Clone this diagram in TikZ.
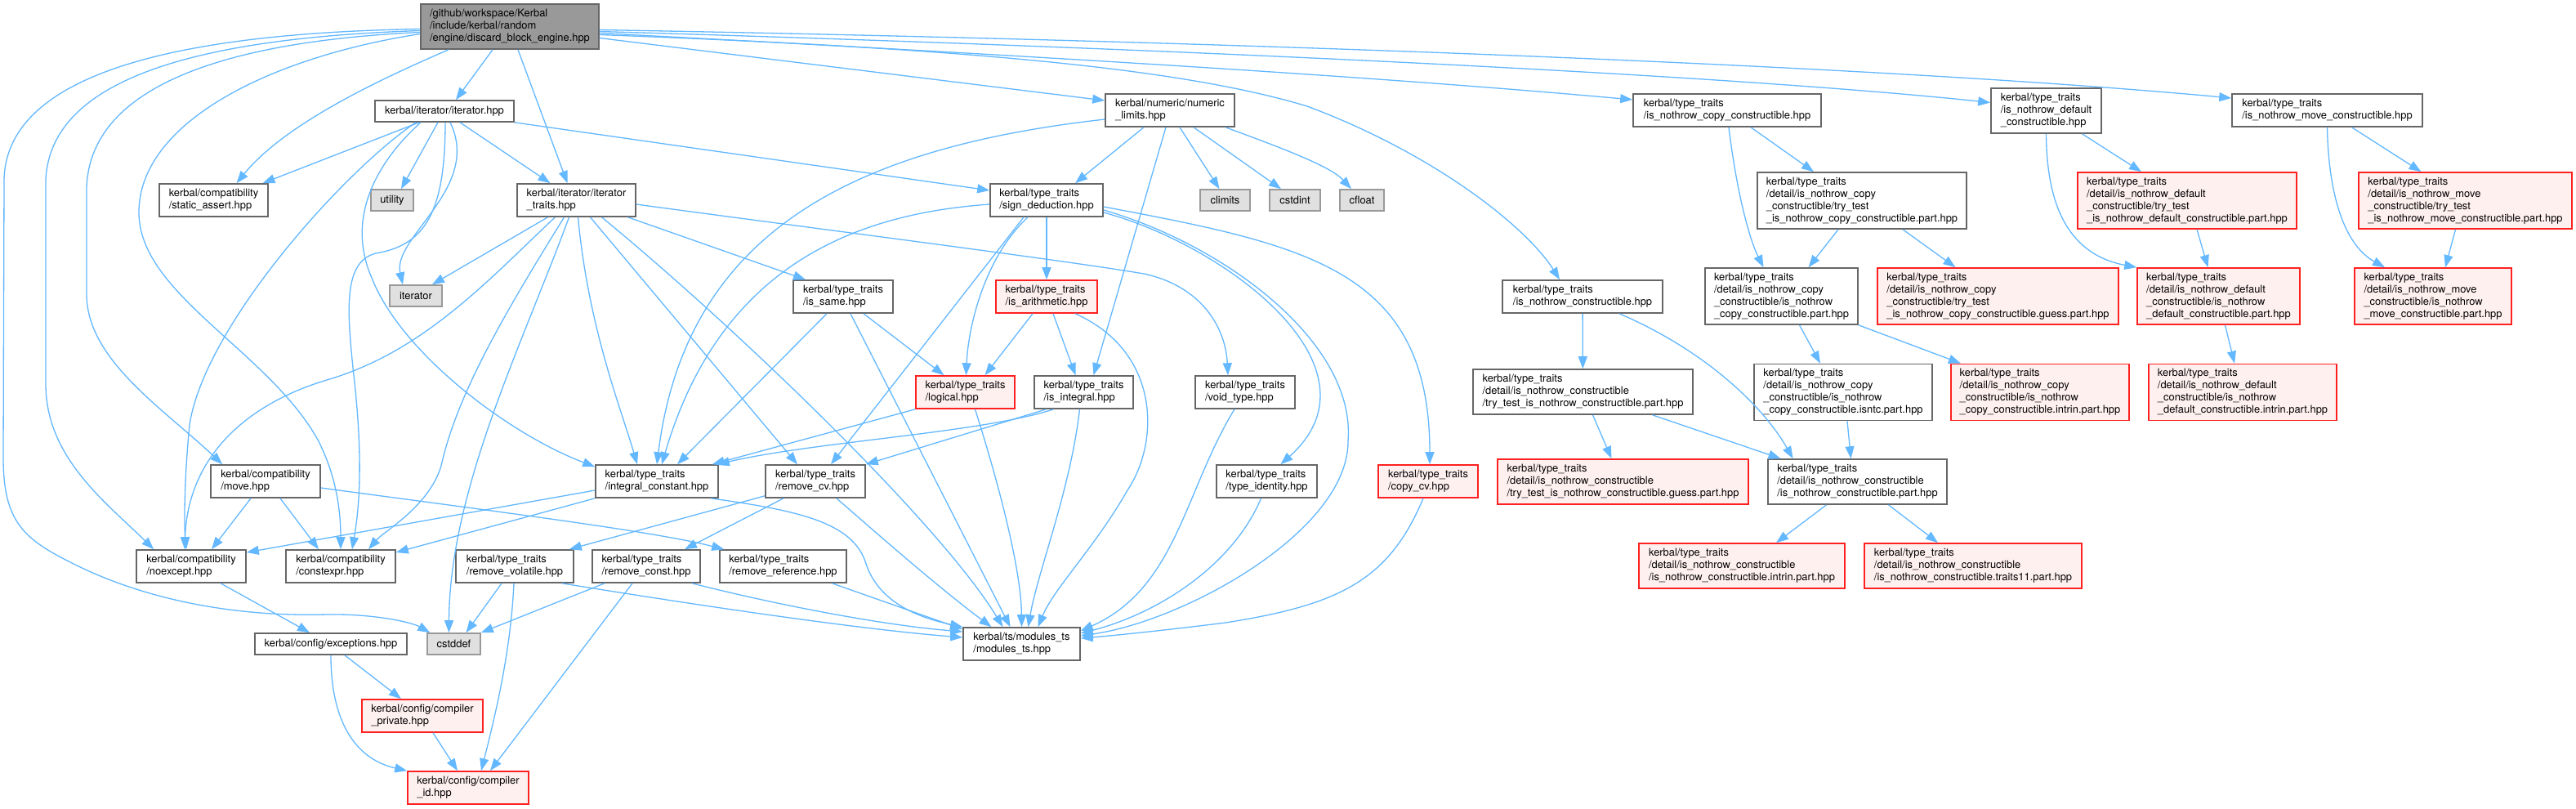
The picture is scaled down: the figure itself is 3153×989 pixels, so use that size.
\documentclass[tikz,border=0pt]{standalone}
\usepackage{fontspec}
\newfontfamily\doxyfont{TeX Gyre Heros}
\usetikzlibrary{arrows.meta}
\definecolor{edgeblue}{HTML}{63B8FF}
\definecolor{boxborder}{HTML}{666666}
\definecolor{mainfill}{HTML}{999999}
\definecolor{sysfill}{HTML}{E0E0E0}
\definecolor{sysborder}{HTML}{999999}
\definecolor{redfill}{HTML}{FFF0F0}
\definecolor{redborder}{HTML}{FF2020}

\begin{document}
\begin{tikzpicture}[x=1pt, y=-1pt,
    hdr/.style={draw=boxborder, fill=white, line width=1.6pt, inner sep=0pt, align=left, font={\doxyfont\fontsize{12.9}{15}\selectfont}},
    mainhdr/.style={hdr, fill=mainfill},
    syshdr/.style={hdr, draw=sysborder, fill=sysfill},
    redhdr/.style={hdr, draw=redborder, fill=redfill},
    oneline/.style={minimum height=26pt},
    twoline/.style={minimum height=40pt},
    threeline/.style={minimum height=55pt},
    fourline/.style={minimum height=69pt},
    arrow/.style={draw=edgeblue, line width=1.3pt, -{Triangle[length=15pt,width=11pt]}}
]
\fill[white] (0,0) rectangle (3153,989);
\useasboundingbox (0,0) rectangle (3153,989);

% Headers, left part
\node[mainhdr, threeline, minimum width=218pt] (main) at (624,32.5) {/github/workspace/Kerbal\\/include/kerbal/random\\/engine/discard\_block\_engine.hpp};
\node[hdr, oneline, minimum width=170pt] (iter) at (544,136) {kerbal/iterator/iterator.hpp};
\node[hdr, twoline, minimum width=133pt] (sa) at (261.5,245) {kerbal/compatibility\\/static\_assert.hpp};
\node[syshdr, oneline, minimum width=52pt] (util) at (480,245) {utility};
\node[hdr, twoline, minimum width=145pt] (itt) at (705.5,245) {kerbal/iterator/iterator\\\_traits.hpp};
\node[syshdr, oneline, minimum width=64pt] (itr) at (509,362) {iterator};
\node[hdr, twoline, minimum width=134pt] (mv) at (325,589) {kerbal/compatibility\\/move.hpp};
\node[hdr, twoline, minimum width=134pt] (nx) at (234,693) {kerbal/compatibility\\/noexcept.hpp};
\node[hdr, twoline, minimum width=134pt] (ce) at (417,693) {kerbal/compatibility\\/constexpr.hpp};
\node[hdr, twoline, minimum width=144pt] (rvol) at (630,693) {kerbal/type\_traits\\/remove\_volatile.hpp};
\node[hdr, oneline, minimum width=186pt] (exc) at (405,788) {kerbal/config/exceptions.hpp};
\node[syshdr, oneline, minimum width=65pt] (cstddef) at (555.5,788) {cstddef};
\node[redhdr, twoline, minimum width=148pt] (cpriv) at (517,876) {kerbal/config/compiler\\\_private.hpp};
\node[redhdr, twoline, minimum width=148pt] (cid) at (573,964) {kerbal/config/compiler\\\_id.hpp};

% Headers, middle part
\node[hdr, twoline, minimum width=122pt] (same) at (1032,363) {kerbal/type\_traits\\/is\_same.hpp};
\node[redhdr, twoline, minimum width=124pt] (arith) at (1281,363) {kerbal/type\_traits\\/is\_arithmetic.hpp};
\node[redhdr, twoline, minimum width=121pt] (logic) at (1181.5,480) {kerbal/type\_traits\\/logical.hpp};
\node[hdr, twoline, minimum width=121pt] (integ) at (1326.5,480) {kerbal/type\_traits\\/is\_integral.hpp};
\node[hdr, twoline, minimum width=150pt] (ic) at (804,589) {kerbal/type\_traits\\/integral\_constant.hpp};
\node[hdr, twoline, minimum width=122pt] (rcv) at (998,589) {kerbal/type\_traits\\/remove\_cv.hpp};
\node[hdr, twoline, minimum width=132pt] (rconst) at (791,693) {kerbal/type\_traits\\/remove\_const.hpp};
\node[hdr, twoline, minimum width=155pt] (rref) at (958.5,693) {kerbal/type\_traits\\/remove\_reference.hpp};
\node[hdr, twoline, minimum width=143pt] (mts) at (1250.5,788) {kerbal/ts/modules\_ts\\/modules\_ts.hpp};
\node[hdr, twoline, minimum width=158pt] (nl) at (1432,135) {kerbal/numeric/numeric\\\_limits.hpp};
\node[hdr, twoline, minimum width=138pt] (sd) at (1281,245) {kerbal/type\_traits\\/sign\_deduction.hpp};
\node[syshdr, oneline, minimum width=61pt] (climits) at (1499.5,245) {climits};
\node[syshdr, oneline, minimum width=62pt] (cstdint) at (1585,245) {cstdint};
\node[syshdr, oneline, minimum width=54pt] (cfloat) at (1667,245) {cfloat};
\node[hdr, twoline, minimum width=122pt] (void) at (1524,480) {kerbal/type\_traits\\/void\_type.hpp};
\node[hdr, twoline, minimum width=123pt] (tid) at (1550.5,589) {kerbal/type\_traits\\/type\_identity.hpp};
\node[redhdr, twoline, minimum width=122pt] (ccv) at (1748,589) {kerbal/type\_traits\\/copy\_cv.hpp};

% Headers, nothrow part
\node[hdr, twoline, minimum width=196pt] (inc) at (1937,363) {kerbal/type\_traits\\/is\_nothrow\_constructible.hpp};
\node[hdr, threeline, minimum width=269pt] (inctt) at (1937.5,479.5) {kerbal/type\_traits\\/detail/is\_nothrow\_constructible\\/try\_test\_is\_nothrow\_constructible.part.hpp};
\node[redhdr, threeline, minimum width=307pt] (incg) at (1986.5,589.5) {kerbal/type\_traits\\/detail/is\_nothrow\_constructible\\/try\_test\_is\_nothrow\_constructible.guess.part.hpp};
\node[hdr, threeline, minimum width=219pt] (incp) at (2273.5,589.5) {kerbal/type\_traits\\/detail/is\_nothrow\_constructible\\/is\_nothrow\_constructible.part.hpp};
\node[redhdr, threeline, minimum width=252pt] (inci) at (2132,692.5) {kerbal/type\_traits\\/detail/is\_nothrow\_constructible\\/is\_nothrow\_constructible.intrin.part.hpp};
\node[redhdr, threeline, minimum width=266pt] (inct) at (2415,692.5) {kerbal/type\_traits\\/detail/is\_nothrow\_constructible\\/is\_nothrow\_constructible.traits11.part.hpp};
\node[hdr, twoline, minimum width=230pt] (incc) at (2114,135) {kerbal/type\_traits\\/is\_nothrow\_copy\_constructible.hpp};
\node[hdr, threeline, minimum width=135pt] (incd) at (2504.5,135.5) {kerbal/type\_traits\\/is\_nothrow\_default\\\_constructible.hpp};
\node[hdr, twoline, minimum width=233pt] (incm) at (2848.5,135) {kerbal/type\_traits\\/is\_nothrow\_move\_constructible.hpp};
\node[hdr, fourline, minimum width=256pt] (cctt) at (2279,245.5) {kerbal/type\_traits\\/detail/is\_nothrow\_copy\\\_constructible/try\_test\\\_is\_nothrow\_copy\_constructible.part.hpp};
\node[redhdr, fourline, minimum width=268pt] (dtt) at (2677,245.5) {kerbal/type\_traits\\/detail/is\_nothrow\_default\\\_constructible/try\_test\\\_is\_nothrow\_default\_constructible.part.hpp};
\node[redhdr, fourline, minimum width=261pt] (mtt) at (3017.5,245.5) {kerbal/type\_traits\\/detail/is\_nothrow\_move\\\_constructible/try\_test\\\_is\_nothrow\_move\_constructible.part.hpp};
\node[hdr, fourline, minimum width=187pt] (ccp) at (2180.5,362.5) {kerbal/type\_traits\\/detail/is\_nothrow\_copy\\\_constructible/is\_nothrow\\\_copy\_constructible.part.hpp};
\node[redhdr, fourline, minimum width=295pt] (ccg) at (2445.5,362.5) {kerbal/type\_traits\\/detail/is\_nothrow\_copy\\\_constructible/try\_test\\\_is\_nothrow\_copy\_constructible.guess.part.hpp};
\node[redhdr, fourline, minimum width=199pt] (dp) at (2715.5,362.5) {kerbal/type\_traits\\/detail/is\_nothrow\_default\\\_constructible/is\_nothrow\\\_default\_constructible.part.hpp};
\node[redhdr, fourline, minimum width=192pt] (mp) at (2978,362.5) {kerbal/type\_traits\\/detail/is\_nothrow\_move\\\_constructible/is\_nothrow\\\_move\_constructible.part.hpp};
\node[hdr, fourline, minimum width=218pt] (ccisntc) at (2256,480) {kerbal/type\_traits\\/detail/is\_nothrow\_copy\\\_constructible/is\_nothrow\\\_copy\_constructible.isntc.part.hpp};
\node[redhdr, fourline, minimum width=218pt] (ccintr) at (2497,480) {kerbal/type\_traits\\/detail/is\_nothrow\_copy\\\_constructible/is\_nothrow\\\_copy\_constructible.intrin.part.hpp};
\node[redhdr, fourline, minimum width=230pt] (dintr) at (2745,480) {kerbal/type\_traits\\/detail/is\_nothrow\_default\\\_constructible/is\_nothrow\\\_default\_constructible.intrin.part.hpp};

% Includes of discard_block_engine.hpp
\draw[arrow] ([yshift=-3pt]main.west) .. controls (250,40) and (8,80) .. (5,220) -- (4,560) .. controls (4,640) and (30,660) .. (90,690) .. controls (180,735) and (290,755) .. (400,752) .. controls (460,751) and (505,762) .. ([xshift=4pt]cstddef.north west);
\draw[arrow] ([yshift=-5pt]main.west) .. controls (260,46) and (62,90) .. (56,220) -- (56,470) .. controls (56,560) and (130,615) .. ([xshift=22pt]nx.north west);
\draw[arrow] ([yshift=-7pt]main.west) .. controls (290,50) and (110,100) .. (106,230) -- (106,360) .. controls (106,440) and (200,500) .. ([xshift=15pt]mv.north west);
\draw[arrow] ([yshift=-9pt]main.west) .. controls (330,70) and (170,150) .. (170,260) .. controls (170,360) and (330,430) .. (390,540) .. controls (410,580) and (417,620) .. (ce.north);
\draw[arrow] ([xshift=-75pt]main.south) .. controls (470,95) and (350,150) .. ([xshift=28pt]sa.north);
\draw[arrow] ([xshift=-21pt]main.south) -- ([xshift=14pt]iter.north);
\draw[arrow] ([xshift=10pt]main.south) -- ([xshift=-11pt]itt.north);
\draw[arrow] ([yshift=-14pt]main.east) -- ([yshift=12pt]nl.west);
\draw[arrow] ([yshift=-4pt]main.east) .. controls (1500,50) and (2300,80) .. ([yshift=15pt]incm.west);
\draw[arrow] ([yshift=-6pt]main.east) .. controls (1400,58) and (2100,90) .. ([yshift=10pt]incd.west);
\draw[arrow] ([yshift=-8pt]main.east) .. controls (1300,70) and (1700,95) .. ([yshift=13pt]incc.west);
\draw[arrow] ([yshift=-10pt]main.east) .. controls (1200,60) and (1450,85) .. (1600,130) .. controls (1760,190) and (1870,280) .. ([xshift=-28pt]inc.north);

% iterator.hpp
\draw[arrow] ([xshift=-31pt]iter.south) -- ([xshift=60pt]sa.north);
\draw[arrow] ([xshift=-8pt]iter.south) -- ([xshift=11pt]util.north);
\draw[arrow] ([xshift=19pt]iter.south) -- ([xshift=-32pt]itt.north);
\draw[arrow] (iter.south east) -- ([yshift=12pt]sd.west);
\draw[arrow] ([xshift=-35pt]iter.south) .. controls (420,210) and (250,400) .. (232,520) .. controls (226,580) and (225,640) .. ([xshift=-6pt]nx.north);
\draw[arrow] ([xshift=-29pt]iter.south) .. controls (470,190) and (420,260) .. (455,340) .. controls (490,430) and (620,530) .. ([yshift=-3pt]ic.north west);
\draw[arrow] ([xshift=7pt]iter.south) .. controls (590,230) and (480,290) .. ([xshift=-16pt]itr.north);
\draw[arrow] ([xshift=1pt]iter.south) .. controls (545,260) and (520,300) .. (460,310) .. controls (420,320) and (425,380) .. (432,450) .. controls (445,560) and (440,620) .. ([xshift=14pt]ce.north);

% iterator_traits.hpp
\draw[arrow] ([xshift=-35pt]itt.south) -- ([xshift=20pt]itr.north);
\draw[arrow] ([xshift=-26pt]itt.south) .. controls (600,340) and (520,430) .. (400,465) .. controls (300,495) and (230,560) .. ([xshift=-8pt]nx.north);
\draw[arrow] ([xshift=-15pt]itt.south) .. controls (620,380) and (560,480) .. (540,570) .. controls (525,620) and (470,650) .. ([xshift=34pt]ce.north);
\draw[arrow] ([xshift=-9pt]itt.south) .. controls (640,420) and (550,600) .. ([xshift=-6pt]cstddef.north);
\draw[arrow] ([xshift=2pt]itt.south) .. controls (720,400) and (760,500) .. ([xshift=-24pt]ic.north);
\draw[arrow] ([xshift=17pt]itt.south) -- ([xshift=-22pt]rcv.north);
\draw[arrow] ([xshift=31pt]itt.south) .. controls (900,400) and (1150,640) .. ([xshift=-23pt]mts.north);
\draw[arrow] ([xshift=63pt]itt.south) -- ([xshift=-46pt]same.north);
\draw[arrow] ([yshift=-5pt]itt.east) .. controls (1000,280) and (1300,318) .. (1400,335) .. controls (1470,350) and (1500,400) .. ([xshift=-21pt]void.north);

% sign_deduction.hpp and numeric_limits.hpp
\draw[arrow] ([yshift=-5pt]sd.west) .. controls (1040,262) and (880,330) .. ([xshift=6pt]ic.north);
\draw[arrow] ([xshift=-28pt]sd.south) -- ([xshift=19pt]rcv.north);
\draw[arrow] ([xshift=-23pt]sd.south) .. controls (1205,315) and (1185,400) .. ([xshift=1pt]logic.north);
\draw[arrow] (sd) -- (arith);
\draw[arrow] ([yshift=-15pt]sd.east) .. controls (1500,300) and (1700,450) .. ([xshift=17pt]tid.north);
\draw[arrow] ([yshift=-8pt]sd.east) .. controls (1600,300) and (1750,330) .. ([xshift=2pt]ccv.north);
\draw[arrow] ([yshift=-12pt]sd.east) .. controls (1500,300) and (1660,420) .. (1650,540) .. controls (1650,650) and (1450,760) .. ([yshift=10pt]mts.east);
\draw[arrow] ([yshift=-11pt]nl.west) .. controls (1050,180) and (840,280) .. (ic.north);
\draw[arrow] ([xshift=-32pt]nl.south) -- ([xshift=35pt]sd.north);
\draw[arrow] ([xshift=-5pt]nl.south) -- ([xshift=12pt]integ.north);
\draw[arrow] ([xshift=12pt]nl.south) -- ([xshift=-7pt]climits.north);
\draw[arrow] ([xshift=29pt]nl.south) -- ([xshift=-17pt]cstdint.north);
\draw[arrow] ([xshift=68pt]nl.south) .. controls (1580,185) and (1630,205) .. ([xshift=-13pt]cfloat.north);

% is_same, is_arithmetic, logical, is_integral
\draw[arrow] ([xshift=-20pt]same.south) -- ([xshift=25pt]ic.north);
\draw[arrow] ([xshift=25pt]same.south) -- ([xshift=-26pt]logic.north);
\draw[arrow] ([xshift=9pt]same.south) -- ([xshift=-14pt]mts.north);
\draw[arrow] ([xshift=-17pt]arith.south) -- ([xshift=24pt]logic.north);
\draw[arrow] ([xshift=8pt]arith.south) -- ([xshift=-10pt]integ.north);
\draw[arrow] ([xshift=35pt]arith.south) .. controls (1420,430) and (1420,540) .. (1380,600) .. controls (1340,670) and (1290,720) .. ([xshift=20pt]mts.north);
\draw[arrow] (logic.south west) -- ([xshift=-8pt]ic.north east);
\draw[arrow] ([xshift=12pt]logic.south) .. controls (1225,600) and (1250,700) .. (mts.north);
\draw[arrow] ([xshift=-37pt]integ.south) .. controls (1200,530) and (1000,540) .. ([xshift=-2pt]ic.north east);
\draw[arrow] ([xshift=-46pt]integ.south) -- (rcv.north east);
\draw[arrow] ([xshift=-5pt]integ.south) .. controls (1310,600) and (1270,700) .. ([xshift=8pt]mts.north);

% integral_constant, remove_*, compatibility, config
\draw[arrow] ([yshift=-11pt]ic.west) -- ([yshift=17pt]nx.east);
\draw[arrow] (ic.south west) -- ([yshift=17pt]ce.east);
\draw[arrow] ([xshift=-10pt]ic.south east) .. controls (980,625) and (1045,640) .. (1060,690) .. controls (1075,735) and (1120,755) .. (mts.north west);
\draw[arrow] ([yshift=3pt]rcv.south west) -- ([xshift=-6pt]rvol.north east);
\draw[arrow] ([xshift=-39pt]rcv.south) -- ([xshift=47pt]rconst.north);
\draw[arrow] ([xshift=26pt]rcv.south) .. controls (1070,650) and (1150,720) .. ([xshift=-37pt]mts.north);
\draw[arrow] ([xshift=-16pt]rvol.south) -- ([xshift=15pt]cstddef.north);
\draw[arrow] ([xshift=-1pt]rvol.south) .. controls (625,800) and (605,880) .. ([xshift=16pt]cid.north);
\draw[arrow] ([xshift=-15pt]rvol.south east) .. controls (850,740) and (1050,770) .. ([yshift=8pt]mts.west);
\draw[arrow] ([xshift=-51pt]rconst.south) -- (cstddef.north east);
\draw[arrow] ([xshift=-17pt]rconst.south) -- ([xshift=27pt]cid.north);
\draw[arrow] ([xshift=56pt]rconst.south) .. controls (950,740) and (1080,765) .. ([yshift=15pt]mts.west);
\draw[arrow] ([xshift=60pt]rref.south) -- ([yshift=18pt]mts.west);
\draw[arrow] ([xshift=-18pt]mv.south) -- ([xshift=25pt]nx.north);
\draw[arrow] ([xshift=18pt]mv.south) -- ([xshift=-27pt]ce.north);
\draw[arrow] ([yshift=-8pt]mv.east) .. controls (600,625) and (800,650) .. ([xshift=6pt]rref.north west);
\draw[arrow] ([xshift=36pt]nx.south) -- ([xshift=-26pt]exc.north);
\draw[arrow] ([xshift=17pt]exc.south) -- ([xshift=-26pt]cpriv.north);
\draw[arrow] (exc.south) .. controls (405,890) and (440,930) .. (cid.north west);
\draw[arrow] ([xshift=13pt]cpriv.south) -- ([xshift=-13pt]cid.north);

% void_type, type_identity, copy_cv
\draw[arrow] ([xshift=-13pt]void.south) .. controls (1450,600) and (1440,720) .. ([yshift=16pt]mts.east);
\draw[arrow] ([xshift=-7pt]tid.south) .. controls (1510,690) and (1420,750) .. ([yshift=13pt]mts.east);
\draw[arrow] ([xshift=-6pt]ccv.south) .. controls (1700,710) and (1640,740) .. (1500,762) .. controls (1420,772) and (1360,778) .. ([yshift=7pt]mts.east);

% is_nothrow_* traits
\draw[arrow] (inc) -- (inctt);
\draw[arrow] ([xshift=45pt]inc.south) .. controls (2090,430) and (2160,500) .. ([xshift=-79pt]incp.north);
\draw[arrow] ([xshift=12pt]inctt.south) -- ([xshift=-14pt]incg.north);
\draw[arrow] ([xshift=85pt]inctt.south) -- ([xshift=-94pt]incp.north);
\draw[arrow] ([xshift=-38pt]incp.south) -- ([xshift=42pt]inci.north);
\draw[arrow] ([xshift=38pt]incp.south) -- ([xshift=-43pt]inct.north);
\draw[arrow] ([xshift=2pt]incc.south) .. controls (2125,230) and (2140,290) .. ([xshift=-22pt]ccp.north);
\draw[arrow] ([xshift=29pt]incc.south) -- ([xshift=-59pt]cctt.north);
\draw[arrow] ([xshift=-29pt]cctt.south) -- ([xshift=33pt]ccp.north);
\draw[arrow] ([xshift=50pt]cctt.south) -- ([xshift=-52pt]ccg.north);
\draw[arrow] ([xshift=22pt]ccp.south) -- ([xshift=-28pt]ccisntc.north);
\draw[arrow] (ccp.south east) -- ([xshift=-97pt]ccintr.north);
\draw[arrow] ([xshift=5pt]ccisntc.south) -- ([xshift=-8pt]incp.north);
\draw[arrow] ([xshift=44pt]incd.south) -- ([xshift=-56pt]dtt.north);
\draw[arrow] (incd.south) .. controls (2505,240) and (2525,310) .. (dp.north west);
\draw[arrow] ([xshift=12pt]dtt.south) -- ([xshift=-13pt]dp.north);
\draw[arrow] ([xshift=8pt]dp.south) -- ([xshift=-10pt]dintr.north);
\draw[arrow] ([xshift=30pt]incm.south) -- ([xshift=-54pt]mtt.north);
\draw[arrow] (incm.south) .. controls (2850,240) and (2870,300) .. ([xshift=-59pt]mp.north);
\draw[arrow] ([xshift=-12pt]mtt.south) -- ([xshift=15pt]mp.north);

\end{tikzpicture}
\end{document}
